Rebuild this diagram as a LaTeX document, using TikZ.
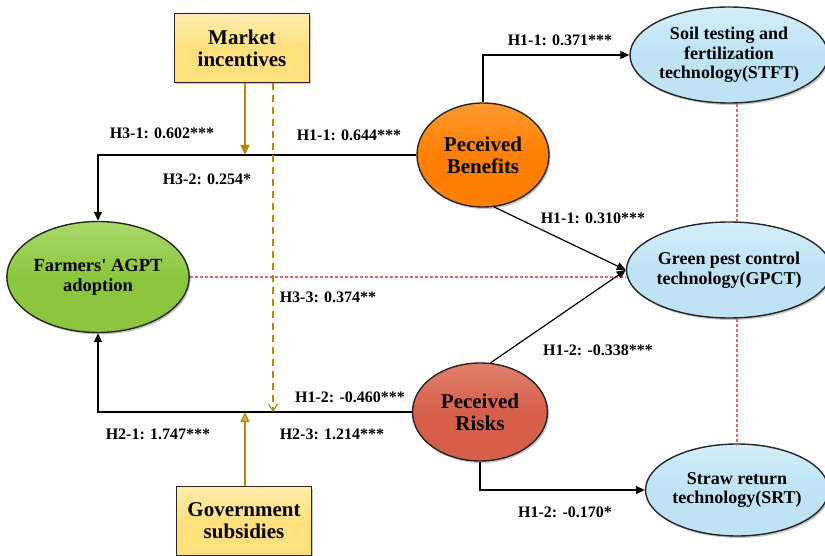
\documentclass[tikz,border=0pt]{standalone}
\usepackage{fontspec}
\setmainfont{Liberation Serif}
\usetikzlibrary{arrows.meta,shapes.geometric,shadows}
\definecolor{boxyellow}{HTML}{FFE07C}
\definecolor{boxyellowtop}{HTML}{FFEDAE}
\definecolor{agreen}{HTML}{8CC63F}
\definecolor{agreentop}{HTML}{A9D86A}
\definecolor{aorange}{HTML}{FF7F00}
\definecolor{aorangetop}{HTML}{FF9A33}
\definecolor{ared}{HTML}{D65F4A}
\definecolor{aredtop}{HTML}{E07F6C}
\definecolor{ablue}{HTML}{BDE3F5}
\definecolor{abluetop}{HTML}{D4EEFA}
\definecolor{gold}{HTML}{B8860B}
\definecolor{goldlight}{HTML}{D9A84E}
\definecolor{dotred}{HTML}{DE6A6A}
\begin{document}
\begin{tikzpicture}[x=1pt,y=-1pt,
  nodetext/.style={font=\fontsize{18}{19.5}\selectfont\bfseries, align=center, text=black},
  bigtext/.style={font=\fontsize{21}{22}\selectfont\bfseries},
  ell/.style={ellipse, draw=black!85, line width=1.4pt, inner sep=0pt, nodetext,
     drop shadow={opacity=0.45, shadow xshift=1.5pt, shadow yshift=-2pt}},
  ybox/.style={rectangle, draw=black!85, line width=1.4pt, inner sep=0pt, nodetext, bigtext,
     top color=boxyellowtop, bottom color=boxyellow, middle color=boxyellow,
     minimum width=135pt, minimum height=69pt,
     drop shadow={opacity=0.45, shadow xshift=1.5pt, shadow yshift=-2pt}},
  lbl/.style={font=\fontsize{16}{17}\selectfont\bfseries, text=black, inner sep=1pt},
  conn/.style={line width=1.2pt, draw=black, -{Triangle[length=9pt,width=8pt]}},
  goldsolid/.style={line width=1.2pt, draw=gold, -{Triangle[length=10pt,width=9pt,fill=gold]}},
  goldup/.style={line width=1.2pt, draw=gold, -{Triangle[length=10pt,width=9pt,fill=goldlight]}},
  golddash/.style={line width=1.1pt, draw=gold, dash pattern=on 7pt off 5pt, -{Straight Barb[length=7pt,width=9pt]}},
  dotline/.style={draw=dotred, line width=1.2pt, dash pattern=on 3pt off 2pt}
]
\useasboundingbox (0,0) rectangle (825,556);

% nodes
\node[ell, font=\fontsize{18.5}{20}\selectfont\bfseries, top color=agreentop, bottom color=agreen, middle color=agreen,
  minimum width=170pt, minimum height=111pt] (fa) at (98,277) {Farmers\textquotesingle{} AGPT\\adoption};
\node[ell, bigtext, top color=aorangetop, bottom color=aorange, middle color=aorange,
  minimum width=132pt, minimum height=104pt] (pb) at (483,155) {Peceived\\Benefits};
\node[ell, bigtext, top color=aredtop, bottom color=ared, middle color=ared,
  minimum width=135pt, minimum height=98pt] (pr) at (480,412) {Peceived\\Risks};
\node[ell, top color=abluetop, bottom color=ablue, middle color=ablue,
  minimum width=188pt, minimum height=96pt] (stft) at (729,55) {Soil testing and\\fertilization\\technology(STFT)};
\node[ell, top color=abluetop, bottom color=ablue, middle color=ablue,
  minimum width=186pt, minimum height=96pt] (gpct) at (729,270) {Green pest control\\technology(GPCT)};
\node[ell, top color=abluetop, bottom color=ablue, middle color=ablue,
  minimum width=176pt, minimum height=92pt] (srt) at (737,490) {Straw return\\technology(SRT)};
\node[ybox] (mi) at (242,48) {Market\\incentives};
\node[ybox] (gs) at (244,521) {Government\\subsidies};

% helper coordinates
\coordinate (m1) at (245,155);
\coordinate (m2) at (273,412);
\coordinate (g1) at (245,412);
\coordinate (dx) at (273,0);
\coordinate (vx) at (737,0);

% dotted correlations
\draw[dotline] (fa.east) -- (gpct.west |- fa.east);
\draw[dotline] (stft.south -| vx) -- (gpct.north -| vx);
\draw[dotline] (gpct.south -| vx) -- (srt.north);

% main paths
\draw[conn] (pb.west) -| (fa.north);
\draw[conn] (pr.west) -| (fa.south);
\draw[conn] (pb.north) |- (stft.west);
\draw[conn] (pb.-78) -- (gpct.west);
\draw[conn] (pr.78) -- (gpct.west);
\draw[conn] (pr.south) |- (srt.west);

% moderators
\draw[goldsolid] (mi.south -| m1) -- (m1);
\draw[golddash] (mi.south -| dx) -- (m2);
\draw[goldup] (gs.north -| g1) -- (g1);

% labels
\node[lbl] (l1) at (162,133) {H3-1: 0.602***};
\node[lbl] (l2) at (349,135) {H1-1: 0.644***};
\node[lbl] (l3) at (207,179) {H3-2: 0.254*};
\node[lbl] (l4) at (560,40) {H1-1: 0.371***};
\node[lbl] (l5) at (593,218) {H1-1: 0.310***};
\node[lbl] (l6) at (328,297) {H3-3: 0.374**};
\node[lbl] (l7) at (598,350) {H1-2: -0.338***};
\node[lbl] (l8) at (350,397) {H1-2: -0.460***};
\node[lbl] (l9) at (158,434) {H2-1: 1.747***};
\node[lbl] (l10) at (332,434) {H2-3: 1.214***};
\node[lbl] (l11) at (565,512) {H1-2: -0.170*};
\end{tikzpicture}
\end{document}
